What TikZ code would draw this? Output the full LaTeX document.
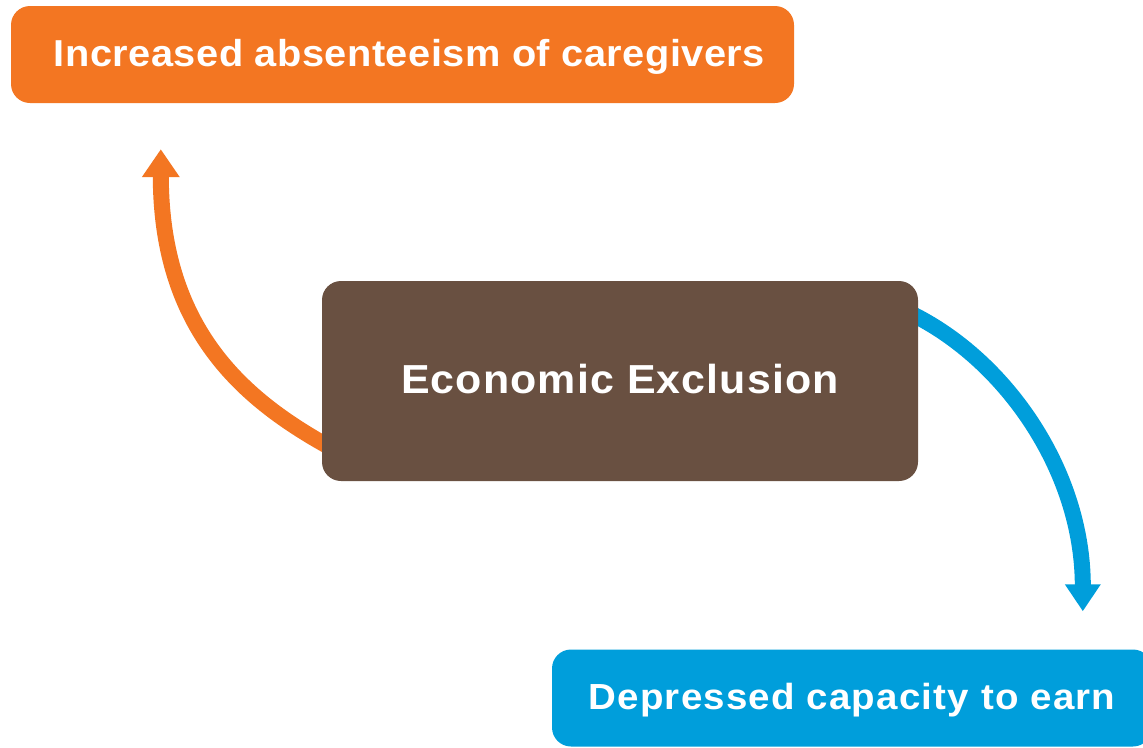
\documentclass[tikz,border=0pt]{standalone}
\usepackage{fontspec}
\newfontfamily\boxfont{Liberation Sans}[FakeStretch=1.06]
\usetikzlibrary{arrows.meta,calc,backgrounds}
\definecolor{myorange}{RGB}{243,118,34}
\definecolor{mybrown}{RGB}{105,80,65}
\definecolor{myblue}{RGB}{0,158,219}
\tikzset{
  box/.style={rounded corners=19pt, inner sep=0pt, text=white, font=\boxfont\bfseries},
  conn/.style={line width=16pt},
}
\begin{document}
\begin{tikzpicture}[x=1pt,y=-1pt]
\useasboundingbox (0,0) rectangle (1143,747);
\node[box, fill=myorange, minimum width=783pt, minimum height=97pt, text height=23pt, text depth=0pt]
  (inc) at (402.5,54.5) {\fontsize{37.5pt}{40pt}\selectfont\addfontfeatures{LetterSpace=1.3}\hspace*{14pt}Increased absenteeism of caregivers};
\node[box, fill=mybrown, minimum width=596pt, minimum height=200pt, text height=24pt, text depth=0pt]
  (ee) at (620,381) {\fontsize{40.5pt}{44pt}\selectfont\addfontfeatures{LetterSpace=2.8}Economic Exclusion};
\node[box, fill=myblue, minimum width=600pt, minimum height=97pt, text height=22pt, text depth=0pt]
  (dep) at (852,698) {\fontsize{36.3pt}{40pt}\selectfont\addfontfeatures{LetterSpace=3.3}Depressed capacity to earn};
\coordinate (otip) at ($(inc.south west)+(150,46)$);
\coordinate (btip) at ($(dep.north west)+(531,-38)$);
\begin{scope}[on background layer]
\draw[conn, myorange, -{Triangle[width=36pt,length=28pt]}]
  ($(ee.south west)+(8,-34)$) .. controls ($(ee.south west)+(-77,-81)$) and ($(otip)+(0,181)$) .. (otip);
\draw[conn, myblue, -{Triangle[width=34pt,length=27pt]}]
  ($(ee.north east)+(-13,30)$) .. controls ($(ee.north east)+(85,75)$) and ($(btip)+(0,-142)$) .. (btip);
\end{scope}
\end{tikzpicture}
\end{document}
